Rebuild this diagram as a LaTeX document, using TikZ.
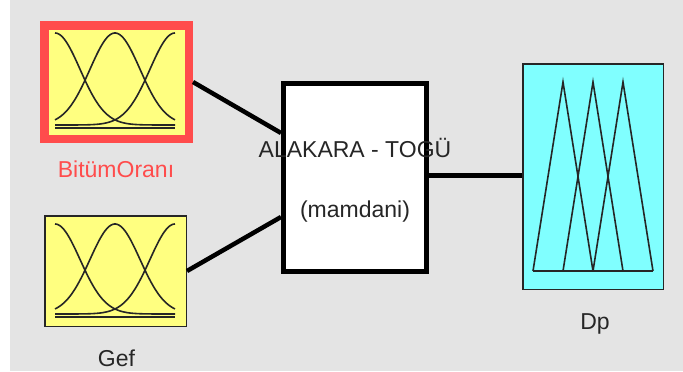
\documentclass[tikz,border=0pt]{standalone}
\usepackage{fontspec}
\setmainfont{Liberation Sans}
\definecolor{bgc}{HTML}{E4E4E4}
\definecolor{mfred}{HTML}{FF4C4C}
\definecolor{mfyellow}{HTML}{FFFF80}
\definecolor{mfcyan}{HTML}{80FFFF}
\definecolor{txtc}{HTML}{262626}
\begin{document}
\begin{tikzpicture}[x=1pt,y=-1pt,
  varbox/.style={rectangle, draw=txtc, line width=1.5pt, inner sep=0pt},
  fisbox/.style={rectangle, draw=black, fill=white, line width=5pt, inner sep=0pt},
  conn/.style={draw=black, line width=4.5pt},
  mfline/.style={draw=black!85, line width=1.6pt},
  lbl/.style={text=txtc, inner sep=0pt, font=\fontsize{23}{27}\selectfont, anchor=base}]
\fill[white] (0,0) rectangle (683,372);
\fill[bgc] (10,0) rectangle (683,371);
\useasboundingbox (0,0) rectangle (683,372);
% boxes
\node[varbox, draw=mfred, line width=8.5pt, fill=mfyellow, minimum width=144.5pt, minimum height=113.5pt] (bit) at (116.5,82) {};
\node[varbox, fill=mfyellow, minimum width=141.5pt, minimum height=110.5pt] (gef) at (115.5,271) {};
\node[fisbox, minimum width=143pt, minimum height=188pt] (fis) at (355,177.5) {};
\node[varbox, fill=mfcyan, minimum width=140.5pt, minimum height=225.5pt] (dp) at (593,176.5) {};
% connectors
\draw[conn] (bit.east) -- ([yshift=44.5pt]fis.west);
\draw[conn] (gef.east) -- ([yshift=-39.5pt]fis.west);
\draw[conn] ([yshift=2pt]fis.east) -- ([yshift=2pt]fis.east -| dp.west);
% membership functions: BitumOrani
\foreach \c in {55,115,175}{
  \draw[mfline] plot[domain=55:175, samples=80, smooth] (\x, {125-92*exp(((\x-\c)*(\x-\c))/(-1250))});
}
\draw[mfline] (55,128) -- (175,128);
% membership functions: Gef
\foreach \c in {55,115,175}{
  \draw[mfline] plot[domain=55:175, samples=80, smooth] (\x, {314-90*exp(((\x-\c)*(\x-\c))/(-1250))});
}
\draw[mfline] (55,317) -- (175,317);
% membership functions: Dp
\draw[mfline] (533,271) -- (563,82) -- (593,271);
\draw[mfline] (563,271) -- (593,82) -- (623,271);
\draw[mfline] (593,271) -- (623,82) -- (653,271);
\draw[mfline] (533,271) -- (653,271);
% texts
\node[lbl] (t1) at (355,157) {ALAKARA - TOGÜ};
\node[lbl] (t2) at (355,217) {(mamdani)};
\node[lbl, text=mfred] (l1) at (116,177) {BitümOranı};
\node[lbl] (l2) at (116.5,366) {Gef};
\node[lbl] (l3) at (595,329) {Dp};
\end{tikzpicture}
\end{document}
